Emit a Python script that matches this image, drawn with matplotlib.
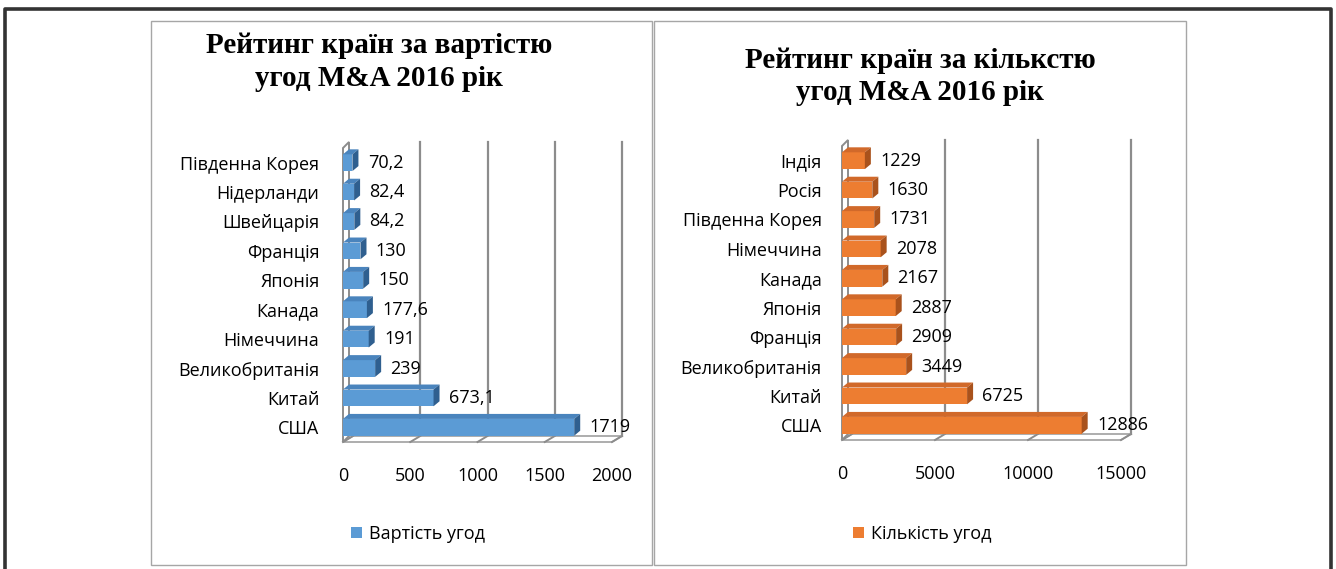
import numpy as np
import matplotlib.pyplot as plt
from matplotlib.patches import Polygon, Rectangle, Patch
from matplotlib.lines import Line2D

# --- Data ---
value_countries = ['США', 'Китай', 'Великобританія', 'Німеччина', 'Канада',
                   'Японія', 'Франція', 'Швейцарія', 'Нідерланди', 'Південна Корея']
value_amounts = [1719, 673.1, 239, 191, 177.6, 150, 130, 84.2, 82.4, 70.2]
value_ticks = [0, 500, 1000, 1500, 2000]

count_countries = ['США', 'Китай', 'Великобританія', 'Франція', 'Японія',
                   'Канада', 'Німеччина', 'Південна Корея', 'Росія', 'Індія']
count_amounts = [12886, 6725, 3449, 2909, 2887, 2167, 2078, 1731, 1630, 1229]
count_ticks = [0, 5000, 10000, 15000]

W, H = 1336, 569
SANS = 'Open Sans'
SERIF = 'Liberation Serif'
FS = 13

fig = plt.figure(figsize=(W / 100, H / 100), dpi=100)
fig.patch.set_facecolor('white')


def px_box(x0, y0, x1, y1):
    """pixel box (top-left origin) -> figure fraction [l, b, w, h]"""
    return [x0 / W, 1 - y1 / H, (x1 - x0) / W, (y1 - y0) / H]


def fig_line(xs, ys, **kw):
    fig.add_artist(Line2D([x / W for x in xs], [1 - y / H for y in ys],
                          transform=fig.transFigure, **kw))


# --- Outer frame and panel boxes ---
fig_line([5, 5, 1331, 1331], [569, 9, 9, 569], color='#333333', lw=2.6)
for (x0, x1) in [(151, 652), (654, 1186)]:
    fig.add_artist(Rectangle((x0 / W, 1 - 565 / H), (x1 - x0) / W, (565 - 21) / H,
                             transform=fig.transFigure, fill=False,
                             edgecolor='#a6a6a6', lw=1.0))


def draw_panel(ax_px, cats, vals, ticks, face, top, side, title, legend_label,
               title_x, title_y, label_pad, legend_xy):
    ax = fig.add_axes(px_box(*ax_px))
    ax.set_facecolor('none')
    n = len(cats)
    y = np.arange(n)
    xmax = ticks[-1]
    ax.set_xlim(0, xmax)
    ax.set_ylim(-0.5, n - 0.5)

    # depth offsets converted from pixels to data units
    ax_w = ax_px[2] - ax_px[0]
    ax_h = ax_px[3] - ax_px[1]
    ux = xmax / ax_w
    uy = n / ax_h
    wdx, wdy = 10 * ux, 6 * uy      # wall / floor depth
    bdx, bdy = 6 * ux, 5 * uy       # bar depth

    grid_c = '#8c8c8c'
    yb, yt = -0.5, n - 0.5
    # back wall gridlines
    for t in ticks[1:]:
        ax.plot([t + wdx, t + wdx], [yb + wdy, yt + wdy], color=grid_c, lw=1.6,
                clip_on=False, zorder=1)
    # floor
    ax.add_patch(Polygon([(0, yb), (xmax, yb), (xmax + wdx, yb + wdy), (wdx, yb + wdy)],
                         closed=True, facecolor='white', edgecolor='#a0a0a0',
                         lw=1.2, clip_on=False, zorder=1))
    for t in ticks:
        ax.plot([t, t + wdx], [yb, yb + wdy], color=grid_c, lw=1.4,
                clip_on=False, zorder=1)
    # left wall
    ax.add_patch(Polygon([(0, yb), (0, yt), (wdx * 0.6, yt + wdy), (wdx * 0.6, yb + wdy)],
                         closed=True, facecolor='white', edgecolor=grid_c,
                         lw=1.4, clip_on=False, zorder=1))

    # bars: front face via barh, top and end faces as polygons
    h = 0.57
    ax.barh(y, vals, height=h, color=face, edgecolor='none', zorder=3,
            label=legend_label)
    for yi, v in zip(y, vals):
        ax.add_patch(Polygon([(0, yi + h / 2), (v, yi + h / 2),
                              (v + bdx, yi + h / 2 + bdy), (bdx, yi + h / 2 + bdy)],
                             closed=True, facecolor=top, edgecolor='none',
                             clip_on=False, zorder=3))
        ax.add_patch(Polygon([(v, yi - h / 2), (v, yi + h / 2),
                              (v + bdx, yi + h / 2 + bdy), (v + bdx, yi - h / 2 + bdy)],
                             closed=True, facecolor=side, edgecolor='none',
                             clip_on=False, zorder=3))
        ax.annotate(f"{v:g}".replace('.', ','), (v, yi), xytext=(11, 0),
                    textcoords='offset points', va='center', ha='left',
                    fontsize=FS, family=SANS, color='black', zorder=5)

    ax.set_yticks(y)
    ax.set_yticklabels(cats, fontsize=FS, family=SANS)
    ax.set_xticks(ticks)
    ax.set_xticklabels([str(t) for t in ticks], fontsize=FS, family=SANS)
    ax.tick_params(axis='x', length=0, pad=18)
    ax.tick_params(axis='y', length=0, pad=label_pad)
    for s in ax.spines.values():
        s.set_visible(False)

    fig.text(title_x / W, 1 - title_y[0] / H, title[0], ha='center', va='baseline',
             fontsize=21, fontweight='bold', family=SERIF)
    fig.text(title_x / W, 1 - title_y[1] / H, title[1], ha='center', va='baseline',
             fontsize=21, fontweight='bold', family=SERIF)

    handles = [Patch(facecolor=face, edgecolor='none', label=legend_label)]
    fig.legend(handles=handles, loc='center',
               bbox_to_anchor=(legend_xy[0] / W, 1 - legend_xy[1] / H),
               bbox_transform=fig.transFigure, frameon=False,
               prop={'family': SANS, 'size': FS},
               handlelength=0.6, handleheight=0.6, handletextpad=0.4)
    return ax


draw_panel((343, 148, 612, 442), value_countries, value_amounts, value_ticks,
           '#5b9bd5', '#4a84bd', '#2f5f8f',
           ['Рейтинг країн за вартістю', 'угод M&A 2016 рік'], 'Вартість угод',
           379, (53, 86), 17, (418, 534))

draw_panel((842, 146, 1121, 440), count_countries, count_amounts, count_ticks,
           '#ed7d31', '#d1692a', '#a9521c',
           ['Рейтинг країн за кількстю', 'угод M&A 2016 рік'], 'Кількість угод',
           920, (68, 100), 14.5, (922, 534))

fig.savefig('out.png', dpi=100, facecolor='white')
